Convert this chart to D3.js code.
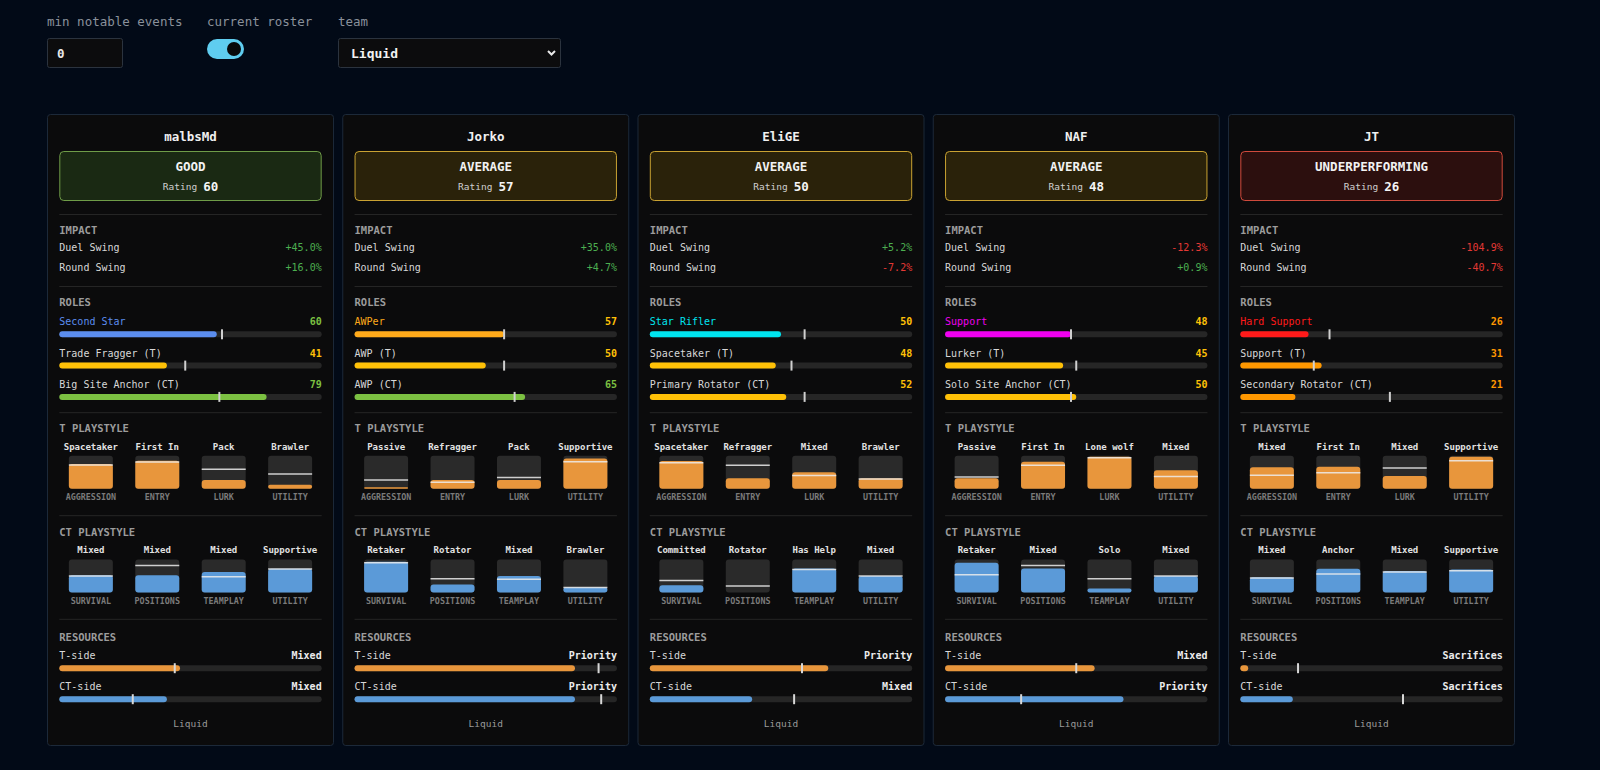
<!DOCTYPE html>
<html>
<head>
<meta charset="utf-8">
<title>Liquid roster</title>
<script src="https://d3js.org/d3.v7.min.js"></script>
<style>
  html, body { margin: 0; padding: 0; background: #020a17; }
  svg { display: block; }
  text { font-family: "DejaVu Sans Mono", monospace; }
</style>
</head>
<body>
<script>

// ---- data ----
var teamName = "Liquid";
var players = ["malbsMd", "Jorko", "EliGE", "NAF", "JT"];
var statusLabels = ["GOOD", "AVERAGE", "AVERAGE", "AVERAGE", "UNDERPERFORMING"];
var ratings = [60, 57, 50, 48, 26];
var duelSwing = [45.0, 35.0, 5.2, -12.3, -104.9];
var roundSwing = [16.0, 4.7, -7.2, 0.9, -40.7];

var roleNames = [
  ["Second Star", "Trade Fragger (T)", "Big Site Anchor (CT)"],
  ["AWPer", "AWP (T)", "AWP (CT)"],
  ["Star Rifler", "Spacetaker (T)", "Primary Rotator (CT)"],
  ["Support", "Lurker (T)", "Solo Site Anchor (CT)"],
  ["Hard Support", "Support (T)", "Secondary Rotator (CT)"]
];
var roleValues = [[60, 41, 79], [57, 50, 65], [50, 48, 52], [48, 45, 50], [26, 31, 21]];
var roleMarks = [[62, 48, 61], [57, 57, 61], [59, 54, 59], [48, 50, 48], [34, 28, 57]];
var mainRoleColors = ["#5b8def", "#ffaa1a", "#00e5f0", "#f000f0", "#ff1a1a"];

var tAxes = ["AGGRESSION", "ENTRY", "LURK", "UTILITY"];
var tStyles = [
  ["Spacetaker", "First In", "Pack", "Brawler"],
  ["Passive", "Refragger", "Pack", "Supportive"],
  ["Spacetaker", "Refragger", "Mixed", "Brawler"],
  ["Passive", "First In", "Lone wolf", "Mixed"],
  ["Mixed", "First In", "Mixed", "Supportive"]
];
var tFill = [[75, 85, 27, 12], [5, 27, 27, 92], [84, 32, 50, 32], [32, 82, 97, 56], [65, 67, 39, 97]];
var tMark = [[72, 81, 59, 45], [27, 20, 34, 82], [79, 71, 40, 30], [36, 71, 94, 37], [41, 49, 63, 85]];

var ctAxes = ["SURVIVAL", "POSITIONS", "TEAMPLAY", "UTILITY"];
var ctStyles = [
  ["Mixed", "Mixed", "Mixed", "Supportive"],
  ["Retaker", "Rotator", "Mixed", "Brawler"],
  ["Committed", "Rotator", "Has Help", "Mixed"],
  ["Retaker", "Mixed", "Solo", "Mixed"],
  ["Mixed", "Anchor", "Mixed", "Supportive"]
];
var ctFill = [[52, 52, 62, 72], [93, 24, 50, 16], [22, 0, 73, 50], [90, 73, 12, 50], [46, 72, 65, 70]];
var ctMark = [[50, 82, 48, 71], [90, 42, 40, 15], [36, 20, 70, 50], [54, 82, 42, 50], [44, 56, 62, 66]];

var resTLabel = ["Mixed", "Priority", "Priority", "Mixed", "Sacrifices"];
var resTValue = [46, 84, 68, 57, 3];
var resTMark = [44, 93, 58, 50, 22];
var resCTLabel = ["Mixed", "Priority", "Mixed", "Priority", "Sacrifices"];
var resCTValue = [41, 84, 39, 68, 20];
var resCTMark = [28, 94, 55, 29, 62];

var controlLabels = ["min notable events", "current roster", "team"];

// ---- colours ----
var statusStyle = {
  "GOOD": { fill: "#1a2913", stroke: "#6f9c48" },
  "AVERAGE": { fill: "#2a220a", stroke: "#c9a232" },
  "UNDERPERFORMING": { fill: "#2c0f0e", stroke: "#cf4a3c" }
};
var tColor = "#e8963c", ctColor = "#5b9ad8";
function tierColor(v) { return v >= 60 ? "#7cc142" : v >= 35 ? "#ffc107" : "#ff9800"; }
function fmtPct(v) { return (v > 0 ? "+" : "") + v.toFixed(1) + "%"; }

var svg = d3.select("body").append("svg")
  .attr("width", 1600)
  .attr("height", 770);

// ---- controls row ----
var ctlX = [47, 207, 338];
svg.selectAll("text.ctl").data(controlLabels).join("text")
  .attr("class", "ctl")
  .attr("x", function(d, i) { return ctlX[i]; })
  .attr("y", 21.5)
  .attr("dominant-baseline", "central")
  .attr("font-size", 12.5)
  .attr("fill", "#8a919b")
  .text(function(d) { return d; });

svg.append("rect").attr("x", 47.5).attr("y", 38.5).attr("width", 75).attr("height", 29)
  .attr("rx", 2).attr("fill", "#0c0c0d").attr("stroke", "#2b333e");
svg.append("text").attr("x", 57).attr("y", 53.5).attr("dominant-baseline", "central")
  .attr("font-size", 12.5).attr("font-weight", "bold").attr("fill", "#e8e8e8").text("0");

svg.append("rect").attr("x", 207).attr("y", 39).attr("width", 37).attr("height", 20)
  .attr("rx", 10).attr("fill", "#5fcdf0");
svg.append("circle").attr("cx", 234).attr("cy", 49).attr("r", 7).attr("fill", "#08090b");

svg.append("rect").attr("x", 338.5).attr("y", 38.5).attr("width", 222).attr("height", 29)
  .attr("rx", 2).attr("fill", "#0c0c0d").attr("stroke", "#2b333e");
svg.append("text").attr("x", 351).attr("y", 53.5).attr("dominant-baseline", "central")
  .attr("font-size", 13).attr("font-weight", "bold").attr("fill", "#f2f2f2").text(teamName);
svg.append("path").attr("d", "M548,51 l3.5,3.5 l3.5,-3.5")
  .attr("fill", "none").attr("stroke", "#e8e8e8").attr("stroke-width", 2);

// ---- cards ----
var xCard = d3.scaleBand().domain(d3.range(players.length)).range([47, 1515]).paddingInner(0.028);
var cw = xCard.bandwidth();
var pad = 12.3, innerW = cw - 2 * pad;
var pct = d3.scaleLinear().domain([0, 100]).range([0, innerW]);
var col = d3.scaleBand().domain(d3.range(4)).range([pad, pad + innerW]).paddingInner(0.05);
var tileW = 44, tileH = 33;
var tileScale = d3.scaleLinear().domain([0, 100]).range([0, tileH]);

var cards = svg.selectAll("g.card").data(players).join("g")
  .attr("class", "card")
  .attr("transform", function(d, i) { return "translate(" + xCard(i) + ",0)"; });

cards.each(function(name, i) {
  var g = d3.select(this);

  g.append("rect").attr("x", 0.5).attr("y", 114.5).attr("width", cw - 1).attr("height", 631)
    .attr("rx", 3).attr("fill", "#0b0b0c").attr("stroke", "#1c2939");

  function label(x, y, txt, size, color, opts) {
    opts = opts || {};
    return g.append("text").attr("x", x).attr("y", y)
      .attr("dominant-baseline", "central")
      .attr("text-anchor", opts.anchor || "start")
      .attr("font-size", size)
      .attr("font-weight", opts.bold ? "bold" : null)
      .attr("fill", color)
      .text(txt);
  }
  function divider(y) {
    g.append("line").attr("x1", pad).attr("x2", pad + innerW).attr("y1", y).attr("y2", y)
      .attr("stroke", "#252525");
  }

  // header
  label(cw / 2, 136.7, name, 12.5, "#f0f0f0", { anchor: "middle", bold: true });
  var st = statusStyle[statusLabels[i]];
  g.append("rect").attr("x", pad + 0.5).attr("y", 151.5).attr("width", innerW - 1).attr("height", 49)
    .attr("rx", 4).attr("fill", st.fill).attr("stroke", st.stroke);
  label(cw / 2, 166, statusLabels[i], 12.5, "#f2f2f2", { anchor: "middle", bold: true });
  var rt = g.append("text").attr("x", cw / 2).attr("y", 186).attr("text-anchor", "middle")
    .attr("dominant-baseline", "central");
  rt.append("tspan").attr("font-size", 9.5).attr("fill", "#cfcfcf").text("Rating");
  rt.append("tspan").attr("dx", 6).attr("font-size", 12.5).attr("font-weight", "bold")
    .attr("fill", "#f5f5f5").text(ratings[i]);

  divider(214.5);

  // impact
  label(pad, 230, "IMPACT", 10.5, "#9c9c9c", { bold: true });
  [["Duel Swing", duelSwing[i], 247.7], ["Round Swing", roundSwing[i], 267.7]].forEach(function(r) {
    label(pad, r[2], r[0], 10, "#d8d8d8");
    label(pad + innerW, r[2], fmtPct(r[1]), 10, r[1] >= 0 ? "#4caf50" : "#e53935", { anchor: "end" });
  });

  divider(286.5);

  // roles
  label(pad, 301.7, "ROLES", 10.5, "#9c9c9c", { bold: true });
  var roleY = [321.7, 353, 384.3];
  roleNames[i].forEach(function(rn, k) {
    var v = roleValues[i][k];
    var barColor = k === 0 ? mainRoleColors[i] : tierColor(v);
    label(pad, roleY[k], rn, 10, k === 0 ? mainRoleColors[i] : "#d8d8d8");
    label(pad + innerW, roleY[k], v, 10, tierColor(v), { anchor: "end", bold: true });
    var by = roleY[k] + 12.6;
    g.append("rect").attr("x", pad).attr("y", by - 3).attr("width", innerW).attr("height", 6)
      .attr("rx", 3).attr("fill", "#262626");
    g.append("rect").attr("x", pad).attr("y", by - 3).attr("width", pct(v)).attr("height", 6)
      .attr("rx", 3).attr("fill", barColor);
    g.append("line").attr("x1", pad + pct(roleMarks[i][k])).attr("x2", pad + pct(roleMarks[i][k]))
      .attr("y1", by - 5).attr("y2", by + 5).attr("stroke", "#d0d0d0").attr("stroke-width", 2);
  });

  divider(412.7);

  // playstyle tiles
  function tiles(title, titleY, names, axes, fills, marks, color) {
    label(pad, titleY, title, 10.5, "#9c9c9c", { bold: true });
    var top = titleY + 27.5;
    d3.range(4).forEach(function(j) {
      var cx = col(j) + col.bandwidth() / 2;
      var x0 = cx - tileW / 2;
      label(cx, titleY + 18.4, names[j], 9, "#e2e2e2", { anchor: "middle", bold: true });
      g.append("rect").attr("x", x0).attr("y", top).attr("width", tileW).attr("height", tileH)
        .attr("rx", 3).attr("fill", "#2a2a2a");
      var h = tileScale(fills[j]);
      if (h > 0) {
        g.append("rect").attr("x", x0).attr("y", top + tileH - h).attr("width", tileW).attr("height", h)
          .attr("rx", Math.min(3, h / 2)).attr("fill", color);
      }
      var my = top + tileH - tileScale(marks[j]);
      g.append("line").attr("x1", x0).attr("x2", x0 + tileW).attr("y1", my).attr("y2", my)
        .attr("stroke", "#ececec").attr("stroke-opacity", 0.85).attr("stroke-width", 1.5);
      label(cx, titleY + 68.7, axes[j], 8.4, "#7a7a7a", { anchor: "middle", bold: true });
    });
  }
  tiles("T PLAYSTYLE", 428.3, tStyles[i], tAxes, tFill[i], tMark[i], tColor);
  divider(515.7);
  tiles("CT PLAYSTYLE", 532, ctStyles[i], ctAxes, ctFill[i], ctMark[i], ctColor);
  divider(619.3);

  // resources
  label(pad, 636.7, "RESOURCES", 10.5, "#9c9c9c", { bold: true });
  [["T-side", resTLabel[i], resTValue[i], resTMark[i], tColor, 655.7],
   ["CT-side", resCTLabel[i], resCTValue[i], resCTMark[i], ctColor, 686.7]].forEach(function(r) {
    label(pad, r[5], r[0], 10, "#d8d8d8");
    label(pad + innerW, r[5], r[1], 10, "#ececec", { anchor: "end", bold: true });
    var by = r[5] + 12.5;
    g.append("rect").attr("x", pad).attr("y", by - 3).attr("width", innerW).attr("height", 6)
      .attr("rx", 3).attr("fill", "#262626");
    g.append("rect").attr("x", pad).attr("y", by - 3).attr("width", Math.max(pct(r[2]), 6)).attr("height", 6)
      .attr("rx", 3).attr("fill", r[4]);
    g.append("line").attr("x1", pad + pct(r[3])).attr("x2", pad + pct(r[3]))
      .attr("y1", by - 5).attr("y2", by + 5).attr("stroke", "#d8d8d8").attr("stroke-width", 2);
  });

  label(cw / 2, 723.3, teamName, 9.5, "#9a9a9a", { anchor: "middle" });
});

</script>
</body>
</html>
